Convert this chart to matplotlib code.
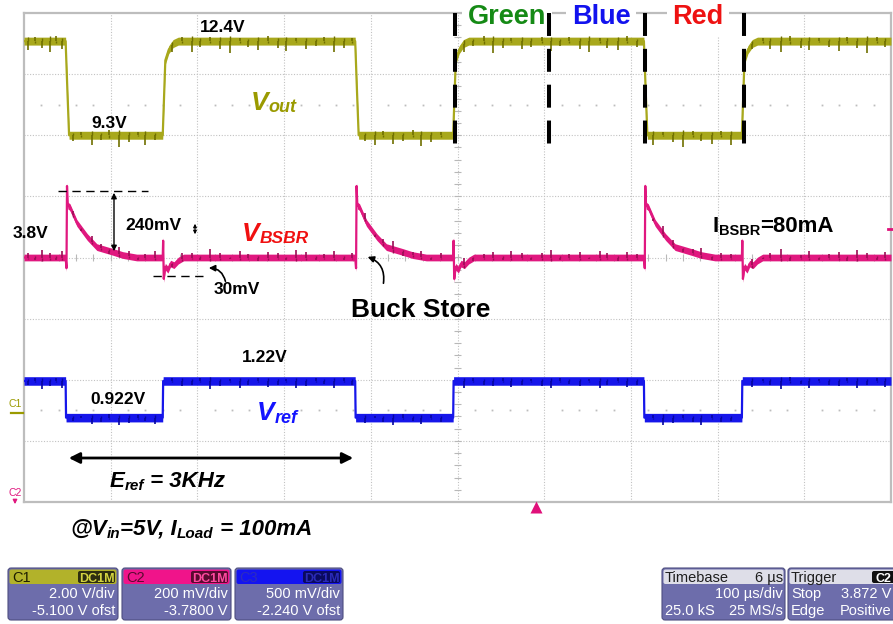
import matplotlib
matplotlib.use('Agg')
import matplotlib.pyplot as plt
import numpy as np
from matplotlib.patches import FancyBboxPatch

plt.rcParams['font.family'] = ['Liberation Sans', 'DejaVu Sans']

# scope settings (C1, C2, C3)
ch_names = ['C1', 'C2', 'C3']
ch_scale = [2.0, 0.2, 0.5]          # V/div
ch_ofst = [-5.1, -3.78, -2.24]      # V offset
ch_scale_txt = ['2.00 V/div', '200 mV/div', '500 mV/div']
ch_ofst_txt = ['-5.100 V ofst', '-3.7800 V', '-2.240 V ofst']

# event times (us, 100 us/div)
fall_t = [48, 382, 715]
rise_t = [160, 495, 828]
sep_t = [497, 606, 716, 830]        # Green / Blue / Red separators

# Vout (C1) levels and edge shapes
vout_hi, vout_lo = 12.18, 9.1
vout_fall_dt = [0, 2, 4]
vout_fall_v = [12.18, 10.6, 9.1]
vout_rise_dt = [0, 3, 7, 12, 18]
vout_rise_v = [9.1, 11.55, 11.9, 12.1, 12.18]

# V_BSBR (C2)
bsbr_base = 3.78
bsbr_fall_dt = [0, 1, 1.6, 2.5, 5, 13, 25, 36, 55, 66, 82]
bsbr_fall_dv = [0, -0.035, 0.234, 0.17, 0.165, 0.113, 0.067, 0.034, 0.018, 0.008, 0]
bsbr_rise_dt = [0, 0.5, 1.2, 3, 6, 9, 13, 18, 24]
bsbr_rise_dv = [0, 0.055, -0.07, -0.03, -0.04, -0.02, -0.025, -0.01, 0]

# Vref (C3)
vref_hi, vref_lo = 1.23, 0.93

# switching glitches seen on all traces (us, size in div)
glitch_t = [5, 13, 21, 30, 37, 44, 57, 66, 78, 89, 98,
            109, 121, 131, 140, 151, 171, 182, 194, 203, 215, 226,
            238, 249, 258, 270, 281, 293, 302, 314, 325, 337, 346,
            358, 369, 378, 393, 405, 414, 426, 437, 449, 458, 470,
            481, 507, 518, 530, 541, 553, 562, 574, 585, 597, 608,
            618, 629, 641, 652, 664, 673, 685, 696, 707, 726, 737,
            749, 760, 772, 781, 793, 804, 816, 840, 852, 861, 873,
            884, 896, 905, 917, 928, 940, 949, 961, 972, 984, 993]
glitch_a = [-0.16, 0.07, -0.12, -0.20, 0.09, -0.14, -0.10, 0.06, -0.18, -0.08, 0.10, -0.22,
            -0.12, 0.05, -0.17, -0.09, -0.13, 0.08, -0.19, -0.11, 0.07, -0.15, -0.21, 0.06,
            -0.10, -0.16, 0.09, -0.12, -0.18, 0.05, -0.14, -0.09, 0.08, -0.20, -0.13, 0.06,
            -0.11, -0.17, 0.07, -0.15, -0.10, 0.09, -0.19, -0.12, 0.06, -0.16, -0.08, 0.10,
            -0.21, -0.13, 0.05, -0.15, -0.11, 0.08, -0.18, -0.09, 0.07, -0.14, -0.20, 0.06,
            -0.12, -0.16, 0.09, -0.10, -0.18, 0.05, -0.13, -0.22, 0.08, -0.11, -0.15, 0.07,
            -0.17, -0.09, 0.06, -0.14, -0.19, 0.10, -0.12, -0.16, 0.05, -0.10, -0.18, 0.08,
            -0.13, -0.21, 0.07, -0.11]


def build(start_v, end_v, events):
    # events: list of (time, dt list, value list)
    t, v = [0], [start_v]
    for t0, dts, vals in sorted(events, key=lambda e: e[0]):
        t += [t0 + d for d in dts]
        v += list(vals)
    t.append(1000)
    v.append(end_v)
    return np.array(t, float), np.array(v, float)


def to_div(v, ch):
    return (v + ch_ofst[ch]) / ch_scale[ch]


W, H = 893, 624
fig = plt.figure(figsize=(W / 100, H / 100), dpi=100)
fig.patch.set_facecolor('white')
ax = fig.add_axes([24 / W, 1 - 502 / H, (891 - 24) / W, (502 - 13) / H])
ax.set_xlim(0, 1000)
ax.set_ylim(-4, 4)
ax.set_xticks([])
ax.set_yticks([])
for s in ax.spines.values():
    s.set_color('#bdbdbd')
    s.set_linewidth(1.6)

# graticule
grid_kw = dict(color='#c2c2c2', lw=0.8, ls=(0, (1, 1.5)), zorder=0)
for k in range(1, 10):
    ax.axvline(k * 100, **grid_kw)
for k in range(-3, 4):
    ax.axhline(k, **grid_kw)
ticks_y = np.arange(-4, 4.01, 0.2)
ticks_x = np.arange(0, 1000.1, 20)
ax.hlines(ticks_y, 496, 504, color='#b8b8b8', lw=0.8, zorder=0)
ax.vlines(ticks_x, -0.06, 0.06, color='#b8b8b8', lw=0.8, zorder=0)
dot_x = [x for x in ticks_x if x % 100]
for yy in (2.5, -2.5):
    ax.plot(dot_x, [yy] * len(dot_x), ls='none', marker='s', ms=1.3,
            color='#bdbdbd', mec='none', zorder=0)


def draw_trace(t, d, half, color, dark, amp):
    ax.fill_between(t, d - half, d + half, color=color, lw=0, zorder=3)
    ax.plot(t, d, color=color, lw=1.6, zorder=3)
    base = np.interp(glitch_t, t, d)
    ax.vlines(glitch_t, base, base + np.array(amp), color=dark, lw=1.2, zorder=4)
    # short stubs on the other side of the band
    ax.vlines(glitch_t, base - np.array(amp) * 0.45, base, color=dark, lw=1.0, zorder=4)


ga = np.array(glitch_a)

# Vout
ev = [(tf, vout_fall_dt, vout_fall_v) for tf in fall_t] + \
     [(tr, vout_rise_dt, vout_rise_v) for tr in rise_t]
t1, v1 = build(vout_hi, vout_hi, ev)
draw_trace(t1, to_div(v1, 0), 0.065, '#a8a81c', '#6f6f00', ga * 0.9)

# V_BSBR
ev = [(tf, bsbr_fall_dt, bsbr_base + np.array(bsbr_fall_dv)) for tf in fall_t] + \
     [(tr, bsbr_rise_dt, bsbr_base + np.array(bsbr_rise_dv)) for tr in rise_t]
t2, v2 = build(bsbr_base, bsbr_base, ev)
draw_trace(t2, to_div(v2, 1), 0.055, '#e0187f', '#9c0c55', -ga[::-1] * 0.6)

# Vref
ev = [(tf, [0, 0.5], [vref_hi, vref_lo]) for tf in fall_t] + \
     [(tr, [0, 0.5], [vref_lo, vref_hi]) for tr in rise_t]
t3, v3 = build(vref_hi, vref_hi, ev)
draw_trace(t3, to_div(v3, 2), 0.07, '#1616ea', '#0606a0', ga[::-1] * 0.6)

# ---------- overlay in pixel coordinates ----------
ov = fig.add_axes([0, 0, 1, 1], zorder=5)
ov.set_xlim(0, W)
ov.set_ylim(H, 0)
ov.axis('off')
renderer = fig.canvas.get_renderer()


def to_px(t, d):
    X, Y = ax.transData.transform((t, d))
    return X, H - Y


def rich(x, y, parts, color='k', style='normal'):
    for s, size, dy in parts:
        tx = ov.text(x, y + dy, s, fontsize=size, color=color, fontweight='bold',
                     fontstyle=style, ha='left', va='baseline')
        x += tx.get_window_extent(renderer).width


# Green / Blue / Red labels and separators
for s, xc, c in [('Green', 507, '#158a15'), ('Blue', 601, '#1212ee'), ('Red', 698, '#ee1212')]:
    ov.text(xc, 24, s, fontsize=19.5, fontweight='bold', color=c, ha='center',
            va='baseline', bbox=dict(fc='white', ec='none', pad=4))
for ts in sep_t:
    x, y0 = to_px(ts, 4)
    _, y1 = to_px(ts, 1.75)
    ov.plot([x, x], [y0, y1], color='k', lw=2.9, ls=(0, (5.7, 3.2)), zorder=6,
            solid_capstyle='butt')

lab = dict(fontsize=12.5, fontweight='bold', ha='center', va='center', color='k')
ov.text(223, 27, '12.4V', **lab)
ov.text(109, 123, '9.3V', **lab)
ov.text(31, 233, '3.8V', **lab)
ov.text(153, 225, '240mV', **lab)
ov.text(237, 290, '30mV', **lab)
ov.text(265, 358, '1.22V', **lab)
ov.text(118, 399, '0.922V', **lab)
ov.text(421, 310, 'Buck Store', fontsize=19, fontweight='bold', ha='center',
        va='center', color='k')

rich(251, 110, [('V', 19, 0), ('out', 13, 2)], color='#9a9a00', style='italic')
rich(242, 241, [('V', 19, 0), ('BSBR', 12.5, 2)], color='#f01010', style='italic')
rich(257, 420, [('V', 19, 0), ('ref', 13, 3)], color='#1414ff', style='italic')
rich(713, 232, [('I', 16, 0), ('BSBR', 10.5, 3), ('=80mA', 16, 0)])
rich(110, 487, [('E', 16, 0), ('ref', 11, 3), (' = 3KHz', 16, 0)], style='italic')
rich(70, 535, [('@V', 16, 0), ('in', 11, 3), ('=5V, I', 16, 0), ('Load', 11, 3),
               (' = 100mA', 16, 0)], style='italic')

# measurement lines and arrows
dash = dict(color='k', lw=1.0, ls=(0, (6, 4)))
ov.plot([58, 148], [191, 191], **dash)
ov.plot([153, 205], [276, 276], **dash)
ov.annotate('', xy=(114, 190), xytext=(114, 254),
            arrowprops=dict(arrowstyle='<|-|>', color='k', lw=1.0, mutation_scale=8))
ov.annotate('', xy=(195, 221), xytext=(195, 237),
            arrowprops=dict(arrowstyle='<|-|>', color='k', lw=0.8, mutation_scale=5))
ov.annotate('', xy=(206, 268), xytext=(226, 284),
            arrowprops=dict(arrowstyle='-|>', color='k', lw=1.2, mutation_scale=9,
                            connectionstyle='arc3,rad=0.45'))
ov.annotate('', xy=(365, 256), xytext=(383, 286),
            arrowprops=dict(arrowstyle='-|>', color='k', lw=1.2, mutation_scale=9,
                            connectionstyle='arc3,rad=0.45'))
ov.annotate('', xy=(66, 458), xytext=(356, 458),
            arrowprops=dict(arrowstyle='<|-|>', color='k', lw=2.0, mutation_scale=16))

# channel markers, trigger markers
ov.text(15, 404, 'C1', fontsize=7.5, color='#9a9a00', ha='center', va='center')
ov.plot([11, 23], [413, 413], color='#9a9a00', lw=1.6)
ov.text(15, 493, 'C2', fontsize=7.5, color='#e0187f', ha='center', va='center')
ov.annotate('', xy=(15, 507), xytext=(15, 498),
            arrowprops=dict(arrowstyle='-|>', color='#e0187f', lw=1.0, mutation_scale=6))
ov.plot([536], [507], marker='^', ms=8, color='#e0107a', mec='none')
ov.plot([888, 893], [229, 229], color='#e0107a', lw=2)


# ---------- bottom info boxes ----------
def panel(x0, x1, head_col, body_col='#6d6dab'):
    ov.add_patch(FancyBboxPatch((x0, 568), x1 - x0, 52, boxstyle='round,pad=0,rounding_size=3',
                                fc=body_col, ec='#4e4e80', lw=0.8))
    ov.add_patch(FancyBboxPatch((x0 + 1.5, 569.5), x1 - x0 - 3, 14.5,
                                boxstyle='round,pad=0,rounding_size=2', fc=head_col, ec='none'))


box_x = [(8, 118), (122, 231), (235, 343)]
head_cols = ['#b2b22a', '#f0148a', '#1414f0']
name_cols = ['#1e1e00', '#5a0a30', '#2c2cc0']
badge_cols = ['#2e2e10', '#5a0a30', '#0a0a60']
badge_txt = ['#d4d440', '#ff4aa0', '#2a2ab8']
txt = dict(fontsize=10.5, color='white', ha='right', va='baseline')
for i in range(3):
    x0, x1 = box_x[i]
    panel(x0, x1, head_cols[i])
    ov.text(x0 + 4, 582, ch_names[i], fontsize=10.5, color=name_cols[i], va='baseline')
    ov.add_patch(FancyBboxPatch((x1 - 40, 571), 37, 12, boxstyle='round,pad=0,rounding_size=2',
                                fc=badge_cols[i], ec='none'))
    ov.text(x1 - 21.5, 581.5, 'DC1M', fontsize=9, fontweight='bold', color=badge_txt[i],
            ha='center', va='baseline')
    ov.text(x1 - 3, 598, ch_scale_txt[i], **txt)
    ov.text(x1 - 3, 615, ch_ofst_txt[i], **txt)

panel(662, 785, '#dedee8')
ov.text(665, 582, 'Timebase', fontsize=10.5, color='#1e1e1e', va='baseline')
ov.text(783, 582, '6 µs', fontsize=10.5, color='#1e1e1e', ha='right', va='baseline')
ov.text(783, 598, '100 µs/div', **txt)
ov.text(665, 615, '25.0 kS', fontsize=10.5, color='white', va='baseline')
ov.text(783, 615, '25 MS/s', **txt)

panel(788, 905, '#dedee8')
ov.text(791, 582, 'Trigger', fontsize=10.5, color='#1e1e1e', va='baseline')
ov.add_patch(FancyBboxPatch((872, 571), 24, 12, boxstyle='round,pad=0,rounding_size=2',
                            fc='#101010', ec='none'))
ov.text(876, 581.5, 'C2', fontsize=9, fontweight='bold', color='white', va='baseline')
ov.text(791, 598, 'Stop', fontsize=10.5, color='white', va='baseline')
ov.text(891, 598, '3.872 V', **txt)
ov.text(791, 615, 'Edge', fontsize=10.5, color='white', va='baseline')
ov.text(891, 615, 'Positive', **txt)

fig.savefig('out.png', dpi=100)
